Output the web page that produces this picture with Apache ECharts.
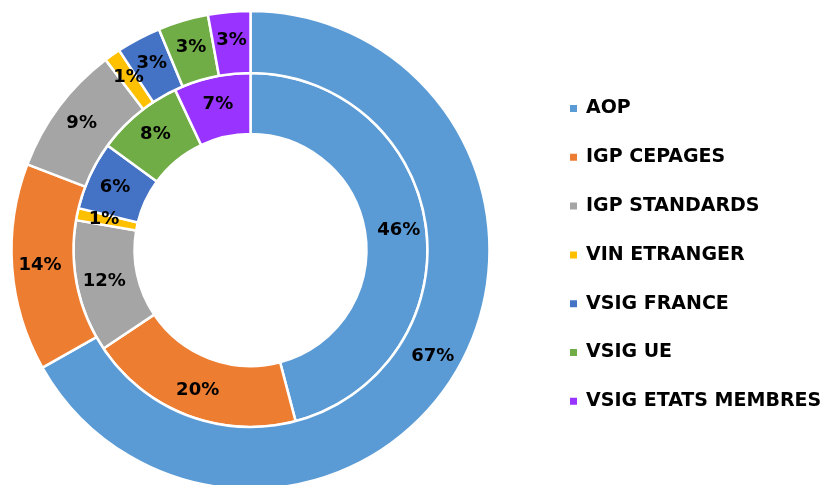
<!DOCTYPE html>
<html>
<head>
<meta charset="utf-8">
<script src="https://cdn.jsdelivr.net/npm/echarts@6/dist/echarts.min.js"></script>
<style>
    html, body { margin: 0; padding: 0; background: #fff; }
    #chart { width: 827px; height: 485px; }
</style>
</head>
<body>
<div id="chart"></div>
<script>
const categories = ['AOP', 'IGP CEPAGES', 'IGP STANDARDS', 'VIN ETRANGER', 'VSIG FRANCE', 'VSIG UE', 'VSIG ETATS MEMBRES']
const colors = ['#5B9BD5', '#ED7D31', '#A5A5A5', '#FFC000', '#4472C4', '#70AD47', '#9933FF']
// inner ring
const innerValues = [45.9, 19.7, 12.1, 1.1, 6.25, 7.95, 7.0]
// outer ring
const outerValues = [66.75, 14.0, 8.8, 1.1, 3.0, 3.4, 2.85]

const font = '"DejaVu Sans", sans-serif'

function toData(values) {
    return values.map((v, i) => ({ name: categories[i], value: v }))
}

const ringLabel = {
    show: true,
    position: 'inside',
    color: '#000',
    fontFamily: font,
    fontWeight: 'bold',
    fontSize: 18,
    formatter: p => Math.round(p.percent) + '%'
}

const chart = echarts.init(document.getElementById('chart'))
chart.setOption({
    animation: false,
    color: colors,
    legend: {
        orient: 'vertical',
        left: 563,
        top: 94,
        itemWidth: 9,
        itemHeight: 9,
        itemGap: 29.8,
        icon: 'rect',
        selectedMode: false,
        textStyle: {
            color: '#000',
            fontFamily: font,
            fontWeight: 'bold',
            fontSize: 19,
            padding: [0, 0, 0, 3]
        },
        data: categories
    },
    series: [{
        name: 'inner',
        type: 'pie',
        center: [250.5, 250],
        radius: [116, 177],
        startAngle: 90,
        clockwise: true,
        itemStyle: { borderColor: '#fff', borderWidth: 2.5 },
        label: ringLabel,
        labelLine: { show: false },
        labelLayout: { hideOverlap: false },
        emphasis: { disabled: true },
        data: toData(innerValues)
    }, {
        name: 'outer',
        type: 'pie',
        center: [250.5, 250],
        radius: [177, 239],
        startAngle: 90,
        clockwise: true,
        itemStyle: { borderColor: '#fff', borderWidth: 2.5 },
        label: ringLabel,
        labelLine: { show: false },
        labelLayout: { hideOverlap: false },
        emphasis: { disabled: true },
        data: toData(outerValues)
    }]
})
</script>
</body>
</html>
